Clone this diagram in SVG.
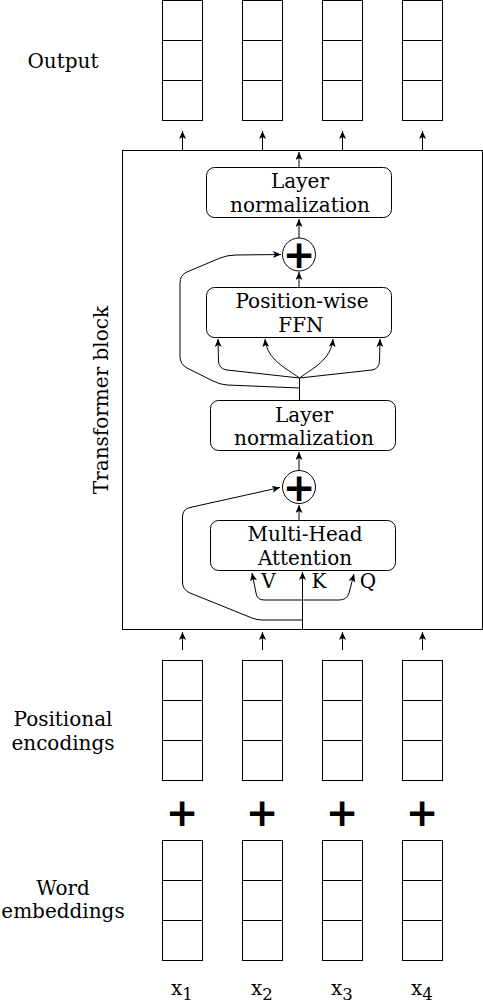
<svg xmlns="http://www.w3.org/2000/svg" width="483" height="1004" viewBox="0 0 483 1004">
<defs>
<style>
.t{font-family:"DejaVu Serif","Liberation Serif",serif;font-size:20px;fill:#000;text-anchor:middle}
.pl{font-family:"DejaVu Sans","Liberation Sans",sans-serif;font-weight:bold;font-size:39px;fill:#000;text-anchor:middle}
.cell{fill:#fff;stroke:#000;stroke-width:1}
.box{fill:#fff;stroke:#000;stroke-width:1}
.ln{fill:none;stroke:#000;stroke-width:1}
.ar{fill:none;stroke:#000;stroke-width:1;marker-end:url(#ah)}
</style>
<marker id="ah" markerUnits="userSpaceOnUse" markerWidth="9" markerHeight="8" refX="8" refY="3.5" orient="auto" viewBox="0 0 9 8">
<path d="M0,0 L8,3.5 L0,7 L2,3.5 Z" fill="#000"/>
</marker>
<g id="stack">
<rect class="cell" x="0" y="0" width="40" height="120"/>
<line class="ln" x1="0" y1="40" x2="40" y2="40"/>
<line class="ln" x1="0" y1="80" x2="40" y2="80"/>
</g>
</defs>
<rect width="483" height="1004" fill="#fff"/>

<g id="labels">
<text class="t" x="63" y="68">Output</text>
<text class="t" x="63" y="726">Positional</text>
<text class="t" x="63" y="750">encodings</text>
<text class="t" x="63" y="895">Word</text>
<text class="t" x="63" y="918">embeddings</text>
<text class="t" transform="translate(108,400) rotate(-90)">Transformer block</text>
</g>

<g id="output-stacks">
<use href="#stack" x="162.5" y="0.5"/>
<use href="#stack" x="242.5" y="0.5"/>
<use href="#stack" x="322.5" y="0.5"/>
<use href="#stack" x="402.5" y="0.5"/>
</g>

<g id="transformer-block">
<rect class="box" x="122.5" y="150.5" width="360" height="479"/>
</g>

<g id="layer-norm-1">
<rect class="box" x="206.5" y="167.5" width="185" height="50" rx="8"/>
<text class="t" x="300" y="188">Layer</text>
<text class="t" x="300" y="211.5">normalization</text>
</g>
<g id="add-1">
<circle class="box" cx="299" cy="254.5" r="16.5"/>
<text class="pl" x="299" y="268">+</text>
</g>
<g id="ffn">
<rect class="box" x="206.5" y="287.5" width="185" height="50" rx="8"/>
<text class="t" x="302" y="308">Position-wise</text>
<text class="t" x="301" y="331.5">FFN</text>
</g>
<g id="layer-norm-2">
<rect class="box" x="210.5" y="400.5" width="185" height="50" rx="8"/>
<text class="t" x="304" y="421.5">Layer</text>
<text class="t" x="304" y="445">normalization</text>
</g>
<g id="add-2">
<circle class="box" cx="299" cy="487" r="16.5"/>
<text class="pl" x="299" y="500.5">+</text>
</g>
<g id="mha">
<rect class="box" x="210.5" y="520.5" width="185" height="50" rx="8"/>
<text class="t" x="305" y="540.5">Multi-Head</text>
<text class="t" x="305" y="565">Attention</text>
</g>
<g id="qkv-labels">
<text class="t" x="268.5" y="588">V</text>
<text class="t" x="319" y="588">K</text>
<text class="t" x="368" y="588">Q</text>
</g>

<g id="pe-stacks">
<use href="#stack" x="162.5" y="660.5"/>
<use href="#stack" x="242.5" y="660.5"/>
<use href="#stack" x="322.5" y="660.5"/>
<use href="#stack" x="402.5" y="660.5"/>
</g>
<g id="plus-signs">
<text class="pl" x="182" y="826">+</text>
<text class="pl" x="262" y="826">+</text>
<text class="pl" x="342" y="826">+</text>
<text class="pl" x="422" y="826">+</text>
</g>
<g id="we-stacks">
<use href="#stack" x="162.5" y="840.5"/>
<use href="#stack" x="242.5" y="840.5"/>
<use href="#stack" x="322.5" y="840.5"/>
<use href="#stack" x="402.5" y="840.5"/>
</g>
<g id="inputs">
<text class="t" x="182" y="995">x<tspan font-size="16.6" dy="5">1</tspan></text>
<text class="t" x="262" y="995">x<tspan font-size="16.6" dy="5">2</tspan></text>
<text class="t" x="342" y="995">x<tspan font-size="16.6" dy="5">3</tspan></text>
<text class="t" x="422" y="995">x<tspan font-size="16.6" dy="5">4</tspan></text>
</g>

<g id="connectors">
<line class="ar" x1="182.5" y1="150" x2="182.5" y2="131"/>
<line class="ar" x1="262.5" y1="150" x2="262.5" y2="131"/>
<line class="ar" x1="342.5" y1="150" x2="342.5" y2="131"/>
<line class="ar" x1="422.5" y1="150" x2="422.5" y2="131"/>
<line class="ar" x1="182.5" y1="650" x2="182.5" y2="632"/>
<line class="ar" x1="262.5" y1="650" x2="262.5" y2="632"/>
<line class="ar" x1="342.5" y1="650" x2="342.5" y2="632"/>
<line class="ar" x1="422.5" y1="650" x2="422.5" y2="632"/>

<line class="ar" x1="299" y1="167" x2="299" y2="152"/>
<line class="ar" x1="299" y1="238" x2="299" y2="219"/>
<line class="ar" x1="299" y1="287" x2="299" y2="272"/>
<line class="ar" x1="299" y1="470" x2="299" y2="452"/>
<line class="ar" x1="299" y1="520" x2="299" y2="505"/>

<path class="ln" d="M299.5,400 V378"/>
<path class="ar" d="M299.5,378 L227,370 Q219,369 218.5,361 L218,339"/>
<path class="ar" d="M299.5,378 C286,368 267,360 265,339"/>
<path class="ar" d="M299.5,378 C313,368 331,360 333,339"/>
<path class="ar" d="M299.5,378 L372,370 Q379,369 379.5,361 L380,339"/>
<path class="ar" d="M299.5,388 L227,385 Q220,384.5 213,381 L187,368 Q180,364.5 180,356 L180,283 Q180,275 187,272 L220,258 Q228,255 236,255 L281,254.5"/>

<path class="ln" d="M302.5,630 V600"/>
<path class="ar" d="M302.5,630 V572"/>
<path class="ar" d="M302.5,600 H264 Q257,600 256,593 L252,573"/>
<path class="ar" d="M302.5,600 H339 Q347,600 349,593 L354,574"/>
<path class="ar" d="M302.5,620 H262 Q257,620 252,618 L190,593 Q182.5,590 182.5,582 V517 Q182.5,509 190,507.5 L280,487.5"/>
</g>
</svg>
